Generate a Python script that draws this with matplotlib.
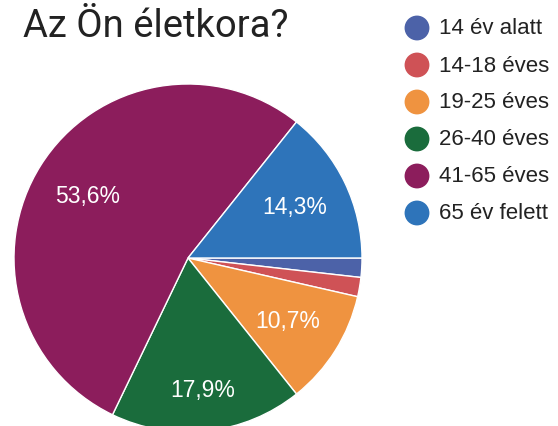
import matplotlib
matplotlib.use("Agg")
import matplotlib.pyplot as plt
import numpy as np

title = "Az Ön életkora?"
categories = ["14 év alatt", "14-18 éves", "19-25 éves", "26-40 éves", "41-65 éves", "65 év felett"]
counts = [1, 1, 6, 10, 30, 8]
colors = ["#4c62a8", "#cf5256", "#ef9340", "#1a6c3c", "#8c1d5c", "#2e74ba"]
label_dist = [0.68, 0.68, 0.68, 0.76, 0.68, 0.68]

W, H = 558, 427
fig = plt.figure(figsize=(W / 100, H / 100), dpi=100)
fig.patch.set_facecolor("white")

# pie axes: center (188, 259) px from top, radius 174 px
cx, cy, R = 188, 259, 174
ax = fig.add_axes([(cx - R) / W, (H - cy - R) / H, 2 * R / W, 2 * R / H])
total = sum(counts)
wedges, _ = ax.pie(counts, colors=colors, startangle=0, counterclock=False,
                   wedgeprops=dict(edgecolor="white", linewidth=1.0), radius=1.0)
ax.set_xlim(-1, 1)
ax.set_ylim(-1, 1)
ax.set_aspect("equal")
ax.axis("off")

for w, c, d in zip(wedges, counts, label_dist):
    pct = 100.0 * c / total
    if pct < 5:
        continue
    ang = np.deg2rad((w.theta1 + w.theta2) / 2)
    ax.text(d * np.cos(ang), d * np.sin(ang), f"{pct:.1f}%".replace(".", ","),
            ha="center", va="center", color="white", fontsize=16.5,
            family="Liberation Sans")

fig.text(23 / W, 1 - 37 / H, title, fontsize=27.5, family="Roboto",
         color="#222222", ha="left", va="baseline")

# legend
ov = fig.add_axes([0, 0, 1, 1], facecolor="none")
ov.set_xlim(0, W)
ov.set_ylim(H, 0)
ov.axis("off")
ys = 29 + 37 * np.arange(len(categories))
ov.scatter([417] * len(categories), ys, s=320, c=colors, edgecolors="none")
for y, lab in zip(ys, categories):
    ov.text(439, y, lab, fontsize=16, family="Liberation Sans", color="#222222",
            ha="left", va="center")

fig.savefig("out.png", dpi=100, facecolor="white")
